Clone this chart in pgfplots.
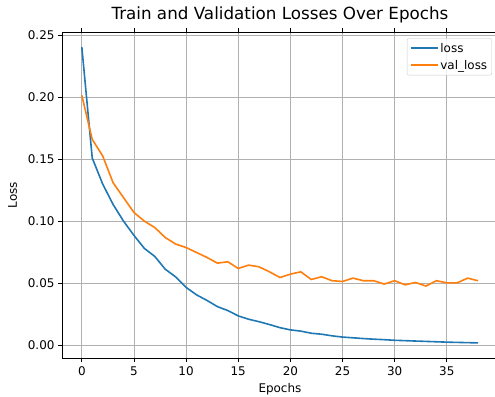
\documentclass[border=0pt]{standalone}
\usepackage{fontspec}
\setmainfont{DejaVu Sans}
\usepackage{pgfplots}
\pgfplotsset{compat=1.18}
\definecolor{tabblue}{HTML}{1F77B4}
\definecolor{taborange}{HTML}{FF7F0E}
\begin{document}
\begin{tikzpicture}
\useasboundingbox (-62bp,-39bp) rectangle (433bp,358bp);
\clip (-62bp,-39bp) rectangle (433bp,358bp);
\begin{axis}[
  at={(0,0)}, anchor=south west,
  scale only axis, width=435.9bp, height=325.7bp,
  xmin=-1.9, xmax=39.9, ymin=-0.0105, ymax=0.2525,
  xtick={0,5,10,15,20,25,30,35},
  ytick={0,0.05,0.10,0.15,0.20,0.25},
  yticklabel style={/pgf/number format/.cd, fixed, fixed zerofill, precision=2},
  xticklabel style={yshift=-1.5bp},
  /pgf/number format/assume math mode=true,
  tick label style={font=\fontsize{12}{14}\selectfont},
  label style={font=\fontsize{12}{14}\selectfont},
  ylabel shift=4bp, xlabel shift=1bp,
  title style={font=\fontsize{16.8}{19}\selectfont, at={(0.5,1)}, anchor=base, yshift=7.3bp},
  title={Train and Validation Losses Over Epochs},
  xlabel={Epochs}, ylabel={Loss},
  grid=major, major grid style={color=black!31, line width=0.8bp},
  tick align=outside, major tick length=4bp,
  every tick/.style={black, line width=0.8bp},
  axis line style={line width=0.8bp},
  legend style={at={(1,1)}, anchor=north east, xshift=-6bp, yshift=-6bp,
    draw=black!20, rounded corners=2bp, fill=white, fill opacity=0.8, text opacity=1,
    font=\fontsize{12}{14}\selectfont, row sep=2.5bp, inner sep=2.5bp},
  legend cell align=left,
  legend image code/.code={\draw[#1, line width=1.8bp] plot coordinates {(0bp,0bp) (27bp,0bp)};},
]
\addplot[color=tabblue, line width=1.6bp] table {
x y
0 0.2406
1 0.1510
2 0.1300
3 0.1135
4 0.1000
5 0.0885
6 0.0780
7 0.0715
8 0.0612
9 0.0550
10 0.0465
11 0.0405
12 0.0360
13 0.0310
14 0.0278
15 0.0235
16 0.0208
17 0.0188
18 0.0165
19 0.0140
20 0.0122
21 0.0112
22 0.0095
23 0.0087
24 0.0074
25 0.0064
26 0.0058
27 0.0052
28 0.0047
29 0.0043
30 0.0038
31 0.0035
32 0.0032
33 0.0029
34 0.0026
35 0.0023
36 0.0021
37 0.0019
38 0.0017
};
\addlegendentry{loss}
\addplot[color=taborange, line width=1.6bp] table {
x y
0 0.2016
1 0.1660
2 0.1527
3 0.1310
4 0.1190
5 0.1070
6 0.1000
7 0.0948
8 0.0868
9 0.0815
10 0.0787
11 0.0747
12 0.0707
13 0.0661
14 0.0672
15 0.0618
16 0.0645
17 0.0631
18 0.0591
19 0.0545
20 0.0572
21 0.0591
22 0.0529
23 0.0551
24 0.0519
25 0.0513
26 0.0540
27 0.0519
28 0.0519
29 0.0492
30 0.0519
31 0.0486
32 0.0505
33 0.0476
34 0.0519
35 0.0502
36 0.0502
37 0.0540
38 0.0519
};
\addlegendentry{val\_loss}
\end{axis}
\end{tikzpicture}
\end{document}
